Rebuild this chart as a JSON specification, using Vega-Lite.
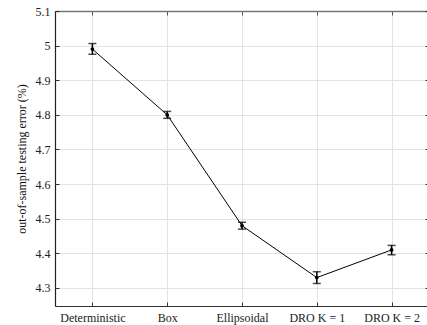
{
  "$schema": "https://vega.github.io/schema/vega-lite/v6.json",
  "width": 374,
  "height": 295,
  "autosize": {"type": "none"},
  "padding": {"left": 55, "top": 11, "right": 0, "bottom": 19},
  "background": "white",
  "config": {
    "view": {"stroke": null},
    "font": "Liberation Serif",
    "axis": {"labelFont": "Liberation Serif", "titleFont": "Liberation Serif", "labelFontSize": 12, "titleFontSize": 12, "labelColor": "#222", "titleColor": "#111", "titleFontWeight": "normal"}
  },
  "data": {
    "values": [
      {"method": "Deterministic", "mean": 4.990, "lo": 4.975, "hi": 5.006},
      {"method": "Box", "mean": 4.800, "lo": 4.790, "hi": 4.810},
      {"method": "Ellipsoidal", "mean": 4.480, "lo": 4.470, "hi": 4.490},
      {"method": "DRO K = 1", "mean": 4.330, "lo": 4.313, "hi": 4.347},
      {"method": "DRO K = 2", "mean": 4.410, "lo": 4.396, "hi": 4.423}
    ]
  },
  "layer": [
    {
      "mark": {"type": "line", "color": "black", "strokeWidth": 1},
      "encoding": {
        "x": {"field": "method", "type": "nominal", "sort": null, "scale": {"type": "point", "padding": 0.5},
          "axis": {"orient": "bottom", "title": null, "labelAngle": 0, "grid": true, "gridColor": "#e3e3e3", "tickSize": -4, "tickColor": "#333", "labelPadding": 10, "domainColor": "#333", "domainWidth": 1.2}},
        "y": {"field": "mean", "type": "quantitative", "scale": {"domain": [4.248, 5.1], "nice": false, "zero": false},
          "axis": {"orient": "left", "title": "out-of-sample testing error (%)", "values": [4.3, 4.4, 4.5, 4.6, 4.7, 4.8, 4.9, 5, 5.1], "format": "~g", "grid": true, "gridColor": "#e3e3e3", "tickSize": -4, "tickColor": "#333", "labelPadding": 9, "titlePadding": 7, "domainColor": "#222", "domainWidth": 1.2}}
      }
    },
    {
      "mark": {"type": "rule", "color": "black", "strokeWidth": 1.5},
      "encoding": {
        "x": {"field": "method", "type": "nominal", "sort": null,
          "axis": {"orient": "top", "title": null, "labels": false, "grid": false, "tickSize": -4, "tickColor": "#555", "domainColor": "#777", "domainWidth": 1.5}},
        "y": {"field": "lo", "type": "quantitative",
          "axis": {"orient": "right", "title": null, "labels": false, "grid": false, "values": [4.3, 4.4, 4.5, 4.6, 4.7, 4.8, 4.9, 5, 5.1], "tickSize": -4, "tickColor": "#333", "domainColor": "#777"}},
        "y2": {"field": "hi"}
      }
    },
    {
      "mark": {"type": "tick", "color": "black", "size": 8, "thickness": 1.5, "orient": "horizontal"},
      "encoding": {
        "x": {"field": "method", "type": "nominal", "sort": null, "axis": null},
        "y": {"field": "lo", "type": "quantitative", "axis": null}
      }
    },
    {
      "mark": {"type": "tick", "color": "black", "size": 8, "thickness": 1.5, "orient": "horizontal"},
      "encoding": {
        "x": {"field": "method", "type": "nominal", "sort": null, "axis": null},
        "y": {"field": "hi", "type": "quantitative", "axis": null}
      }
    },
    {
      "mark": {"type": "point", "filled": true, "color": "black", "size": 14, "opacity": 1},
      "encoding": {
        "x": {"field": "method", "type": "nominal", "sort": null, "axis": null},
        "y": {"field": "mean", "type": "quantitative", "axis": null}
      }
    }
  ],
  "resolve": {"axis": {"x": "independent", "y": "independent"}}
}
